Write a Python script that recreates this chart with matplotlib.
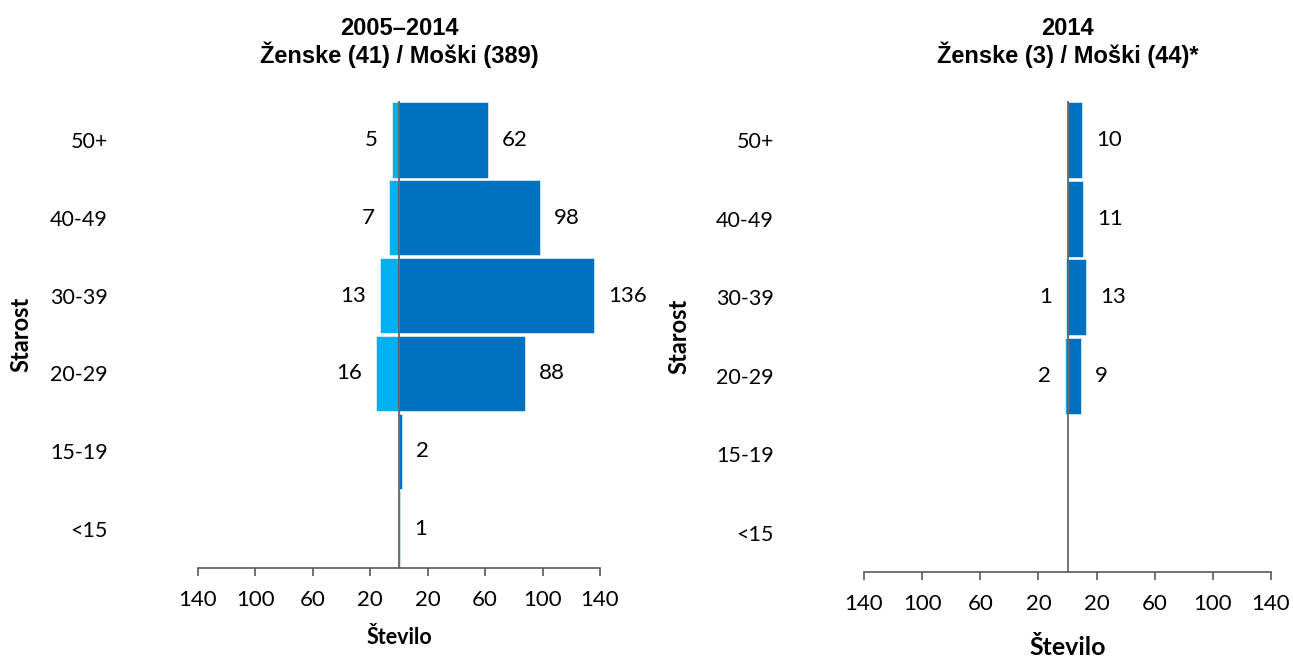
import matplotlib
matplotlib.use("Agg")
import matplotlib.pyplot as plt

# Podatki
starost = ["<15", "15-19", "20-29", "30-39", "40-49", "50+"]

zenske_vse = [0, 0, 16, 13, 7, 5]
moski_vse = [1, 2, 88, 136, 98, 62]

zenske_2014 = [0, 0, 2, 1, 0, 0]
moski_2014 = [0, 0, 9, 13, 11, 10]

naslov_vse = "2005\u20132014\n\u017denske (41) / Mo\u0161ki (389)"
naslov_2014 = "2014\n\u017denske (3) / Mo\u0161ki (44)*"

tick_vals = [-140, -100, -60, -20, 20, 60, 100, 140]

# Barve
c_moski = "#0070C0"
c_zenske = "#00B0F0"
c_os = "#595959"

plt.rcParams['font.family'] = ['Lato', 'DejaVu Sans']

W, H = 1293, 662
fig = plt.figure(figsize=(W / 100, H / 100), dpi=100)


def piramida(rect, zenske, moski, naslov, xlab_size, xlab_pad, ylab_x):
    ax = fig.add_axes(rect)
    y = list(range(len(starost)))
    ax.barh(y, [-v for v in zenske], height=0.97, color=c_zenske, edgecolor="white", linewidth=0.4)
    ax.barh(y, moski, height=0.97, color=c_moski, edgecolor="white", linewidth=0.4)

    # Oznake vrednosti
    for i in y:
        if zenske[i] > 0:
            ax.annotate(str(zenske[i]), (-zenske[i], i), xytext=(-10, 0), textcoords="offset points",
                        ha="right", va="center", fontsize=16)
        if moski[i] > 0:
            ax.annotate(str(moski[i]), (moski[i], i), xytext=(10, 0), textcoords="offset points",
                        ha="left", va="center", fontsize=16)

    ax.axvline(0, color=c_os, linewidth=1.2)
    ax.set_xlim(-140, 140)
    ax.set_ylim(-0.5, len(starost) - 0.5)

    ax.set_xticks(tick_vals)
    ax.set_xticklabels([str(abs(v)) for v in tick_vals], fontsize=16)
    ax.set_yticks(y)
    ax.set_yticklabels(starost, fontsize=15.5)
    ax.tick_params(axis="y", length=0, pad=65)
    ax.tick_params(axis="x", length=6, width=1.2, color=c_os, direction="out", pad=10)

    for s in ["top", "right", "left"]:
        ax.spines[s].set_visible(False)
    ax.spines["bottom"].set_color(c_os)
    ax.spines["bottom"].set_linewidth(1.2)

    ax.set_title(naslov, fontsize=17, fontweight="bold", family=["Liberation Sans", "DejaVu Sans"],
                 pad=27, linespacing=1.1)
    ax.set_xlabel("\u0160tevilo", fontsize=xlab_size, fontweight="bold", labelpad=xlab_pad)
    ax.set_ylabel("Starost", fontsize=17, fontweight="bold")
    ax.yaxis.set_label_coords(ylab_x, 0.5)
    return ax


piramida([198 / W, 94 / H, 402 / W, 467 / H], zenske_vse, moski_vse, naslov_vse, 15.5, 12, -0.413)
piramida([864 / W, 90 / H, 407 / W, 471 / H], zenske_2014, moski_2014, naslov_2014, 18, 16, -0.427)

fig.savefig("out.png", dpi=100)
